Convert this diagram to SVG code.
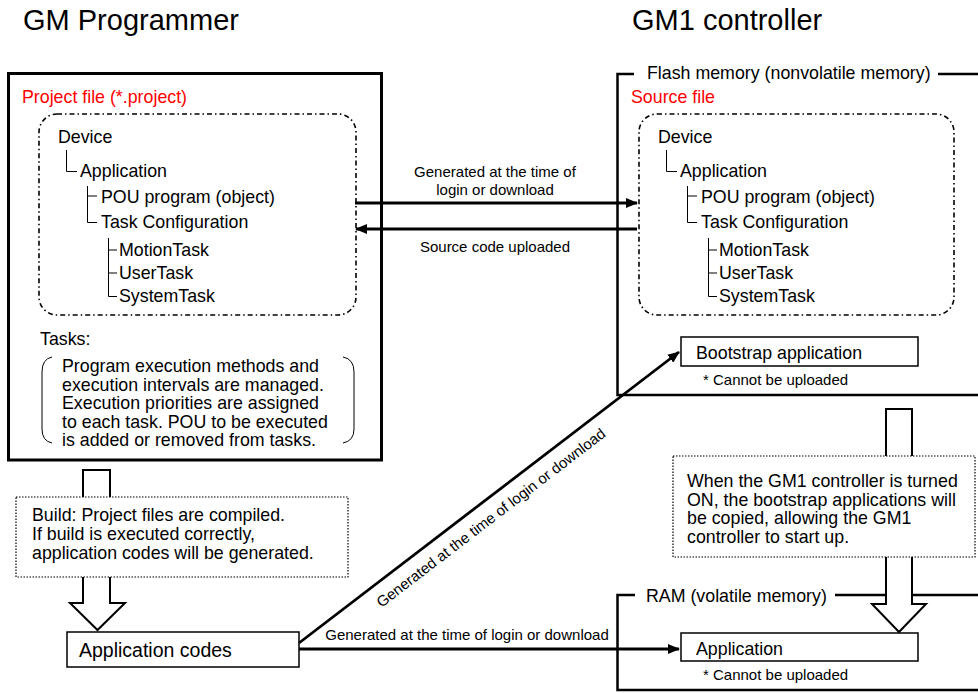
<svg xmlns="http://www.w3.org/2000/svg" width="978" height="693" viewBox="0 0 978 693">
<defs>
<style>
text{font-family:"Liberation Sans",Arial,sans-serif;fill:#000}
.t{font-size:17.8px}
.ttl{font-size:29px}
.s{font-size:15px}
.red{fill:#ff0000}
.thin{fill:none;stroke:#000;stroke-width:1}
.dd{fill:none;stroke:#000;stroke-width:1.6;stroke-dasharray:5 3 1.5 3}
.dot{fill:#fff;stroke:#000;stroke-width:1.2;stroke-dasharray:1.5 1.5}
.box{fill:#fff;stroke:#000;stroke-width:1.5}
.frame{fill:none;stroke:#000;stroke-width:2.5}
.conn{fill:none;stroke:#000;stroke-width:2.8}
.hollow{fill:#fff;stroke:#000;stroke-width:2}
</style>
<marker id="ah" viewBox="0 0 12 10" markerUnits="userSpaceOnUse" markerWidth="12" markerHeight="10" refX="11" refY="5" orient="auto">
<path d="M0,0 L12,5 L0,10 z" fill="#000"/>
</marker>
</defs>
<rect width="978" height="693" fill="#fff"/>

<text class="ttl" x="23" y="30">GM Programmer</text>
<text class="ttl" x="632" y="30">GM1 controller</text>

<g id="programmer">
<rect x="8.5" y="73.5" width="373" height="386.5" fill="none" stroke="#000" stroke-width="3"/>
<text class="t red" x="22" y="103">Project file (*.project)</text>
</g>

<g id="project-tree">
<rect class="dd" x="39" y="114" width="317" height="201" rx="18" ry="18"/>
<text class="t" x="58" y="143">Device</text>
<path class="thin" d="M66.5,150 V171.5 H77"/>
<text class="t" x="80" y="177">Application</text>
<path class="thin" d="M87.5,186 V222.5 H97 M87.5,196 H97"/>
<text class="t" x="101" y="203">POU program (object)</text>
<text class="t" x="101" y="228">Task Configuration</text>
<path class="thin" d="M108.5,238 V296.5 H117 M108.5,250 H117 M108.5,273 H117"/>
<text class="t" x="119" y="256">MotionTask</text>
<text class="t" x="119" y="279">UserTask</text>
<text class="t" x="119" y="302">SystemTask</text>
</g>

<g id="tasks-note">
<text class="t" x="40" y="345">Tasks:</text>
<path class="thin" d="M52,357 Q42,359 42,372 V429 Q42,441 52,443 M343,357 Q354,359 354,372 V429 Q354,441 343,443"/>
<text class="t" x="62" y="372">Program execution methods and</text>
<text class="t" x="62" y="390.5">execution intervals are managed.</text>
<text class="t" x="62" y="409">Execution priorities are assigned</text>
<text class="t" x="62" y="427.5">to each task. POU to be executed</text>
<text class="t" x="62" y="446">is added or removed from tasks.</text>
</g>

<g id="flash-memory">
<path class="frame" d="M634,74 H617.5 V395 H978"/>
<path class="frame" d="M938,74 H978"/>
<text class="t" x="647" y="79">Flash memory (nonvolatile memory)</text>
<text class="t red" x="631" y="103">Source file</text>
</g>

<g id="source-tree">
<rect class="dd" x="639" y="114" width="315" height="201" rx="18" ry="18"/>
<text class="t" x="658" y="143">Device</text>
<path class="thin" d="M666.5,150 V171.5 H677"/>
<text class="t" x="680" y="177">Application</text>
<path class="thin" d="M687.5,186 V222.5 H697 M687.5,196 H697"/>
<text class="t" x="701" y="203">POU program (object)</text>
<text class="t" x="701" y="228">Task Configuration</text>
<path class="thin" d="M708.5,238 V296.5 H717 M708.5,250 H717 M708.5,273 H717"/>
<text class="t" x="719" y="256">MotionTask</text>
<text class="t" x="719" y="279">UserTask</text>
<text class="t" x="719" y="302">SystemTask</text>
</g>

<g id="bootstrap">
<rect class="box" x="681" y="337" width="237" height="29"/>
<text class="t" x="696" y="359">Bootstrap application</text>
<text class="s" x="703" y="385">* Cannot be uploaded</text>
</g>

<g id="ram">
<path class="frame" d="M635,595 H617.5 V690 H978"/>
<path class="frame" d="M835,595 H978"/>
<text class="t" x="646" y="602">RAM (volatile memory)</text>
</g>

<g id="build-arrow">
<path class="hollow" d="M83,470 H110 V603 H125 L97.5,630 L70,603 H83 Z"/>
</g>
<g id="build-note">
<rect class="dot" x="16" y="497" width="332" height="80"/>
<text class="t" x="32" y="521">Build: Project files are compiled.</text>
<text class="t" x="32" y="540">If build is executed correctly,</text>
<text class="t" x="32" y="559">application codes will be generated.</text>
</g>

<g id="startup-arrow">
<path class="hollow" d="M886,409 H912 V604 H926 L899,632 L872,604 H886 Z"/>
</g>
<g id="startup-note">
<rect class="dot" x="673" y="456" width="302" height="101"/>
<text class="t" x="687" y="487">When the GM1 controller is turned</text>
<text class="t" x="687" y="505.5">ON, the bootstrap applications will</text>
<text class="t" x="687" y="524">be copied, allowing the GM1</text>
<text class="t" x="687" y="543">controller to start up.</text>
</g>

<g id="application-codes">
<rect class="box" x="67" y="632" width="232" height="35"/>
<text x="79" y="657" style="font-size:19.5px">Application codes</text>
</g>

<g id="application">
<rect class="box" x="681" y="633" width="237" height="28"/>
<text class="t" x="696" y="655">Application</text>
<text class="s" x="703" y="680">* Cannot be uploaded</text>
</g>

<g id="connectors">
<line class="conn" x1="355" y1="203" x2="637" y2="203" marker-end="url(#ah)"/>
<line class="conn" x1="637" y1="229" x2="356" y2="229" marker-end="url(#ah)"/>
<text class="s" x="495" y="177" text-anchor="middle">Generated at the time of</text>
<text class="s" x="495" y="195" text-anchor="middle">login or download</text>
<text class="s" x="495" y="252" text-anchor="middle">Source code uploaded</text>
<line class="conn" x1="299" y1="643" x2="679" y2="352" marker-end="url(#ah)"/>
<text class="s" text-anchor="middle" transform="translate(480,503.6) rotate(-37.45)" x="0" y="23">Generated at the time of login or download</text>
<line class="conn" x1="299" y1="649" x2="679" y2="649" marker-end="url(#ah)"/>
<text class="s" x="467" y="640" text-anchor="middle">Generated at the time of login or download</text>
</g>
</svg>
